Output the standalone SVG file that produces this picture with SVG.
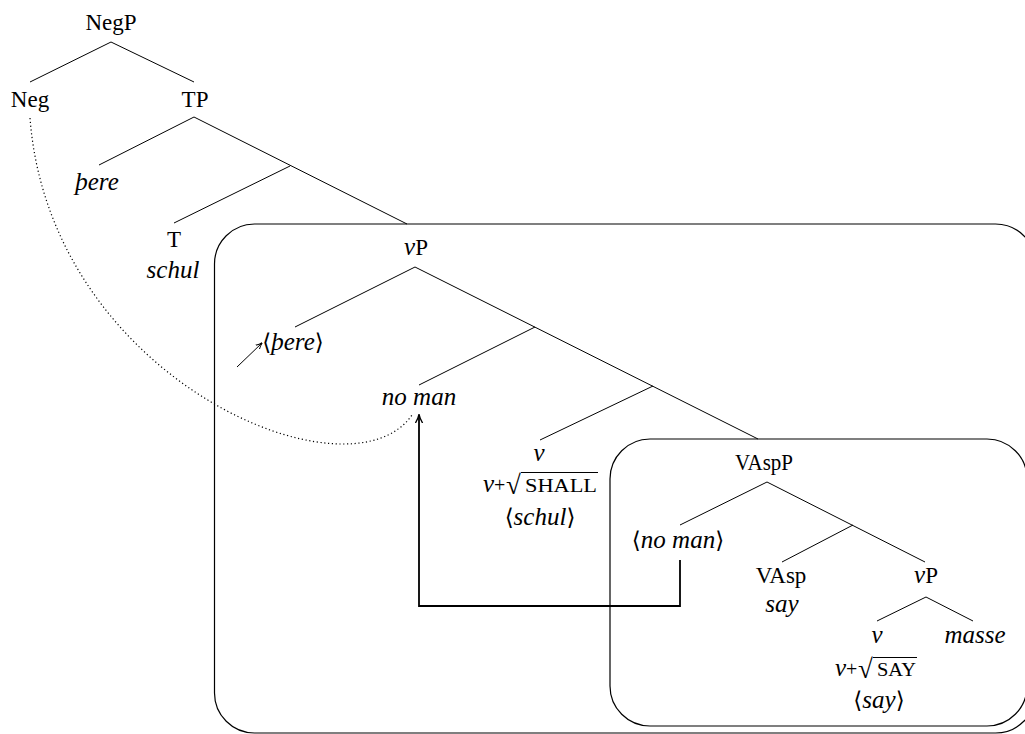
<svg xmlns="http://www.w3.org/2000/svg" width="1025" height="734" viewBox="0 0 1025 734">
<defs>
<style>
.t{font-family:"Liberation Serif","DejaVu Serif",serif;font-size:23px;text-anchor:middle;fill:#000}
.s{text-anchor:start}
.i{font-style:italic;font-size:25px}
.sc{font-size:19px}
.rad{font-size:27px}
.pl{font-size:20px}
.e{stroke:#000;stroke-width:1;fill:none}
.vin{stroke:#000;stroke-width:1.1;fill:none}
.box{stroke:#000;stroke-width:1.2;fill:none}
.mv{stroke:#000;stroke-width:1.8;fill:none}
.dot{stroke:#000;stroke-width:1.2;fill:none;stroke-dasharray:1.2 2.6}
</style>
<marker id="ah" viewBox="0 0 10 10" refX="9" refY="5" markerWidth="7" markerHeight="7" markerUnits="userSpaceOnUse" orient="auto">
<path d="M0,1 Q5,4 10,5 Q5,6 0,9" fill="none" stroke="#000" stroke-width="1.4"/>
</marker>
<marker id="ah2" viewBox="0 0 10 10" refX="9" refY="5" markerWidth="9" markerHeight="9" markerUnits="userSpaceOnUse" orient="auto">
<path d="M0,1 Q5,4 10,5 Q5,6 0,9" fill="none" stroke="#000" stroke-width="1.4"/>
</marker>
</defs>
<rect width="1025" height="734" fill="#fff"/>
<g id="boxes">
<rect class="box" x="214.5" y="224" width="821" height="509" rx="40"/>
<rect class="box" x="610" y="439" width="417" height="287" rx="40"/>
</g>
<g id="connectors">
<path class="e" d="M111,42 L30,82 M111,42 L194,82"/>
<path class="e" d="M194,117 L99,165 M194,117 L407,224 M290,166 L174,223"/>
<path class="e" d="M415,267 L295,327 M415,267 L758,439 M535,327 L419,385 M653,386 L540,440"/>
<path class="e" d="M767,482 L680,525 M767,482 L925,562 M853,525 L782,562"/>
<path class="e" d="M926,597 L877,621 M926,597 L973,621"/>
<line class="e" x1="237" y1="367" x2="262" y2="343" marker-end="url(#ah)"/>
<path class="mv" d="M680,560 V606 H419 V415" marker-end="url(#ah2)"/>
<path class="dot" d="M30,118 C50,380 350,505 412,415"/>
</g>
<g id="n-NegP"><text class="t" x="111" y="30">NegP</text></g>
<g id="n-Neg"><text class="t" x="30" y="107">Neg</text></g>
<g id="n-TP"><text class="t" x="195" y="107">TP</text></g>
<g id="n-there"><text class="t i" x="97" y="190">þere</text></g>
<g id="n-T"><text class="t" x="174" y="247">T</text><text class="t i" x="173" y="278">schul</text></g>
<g id="n-vP"><text class="t" x="416" y="255"><tspan class="i">ν</tspan>P</text></g>
<g id="n-there2"><text class="t" x="293" y="350">⟨<tspan class="i">þere</tspan>⟩</text></g>
<g id="n-noman"><text class="t i" x="419" y="405">no man</text></g>
<g id="n-v1">
<text class="t i" x="539" y="461">ν</text>
<text class="t s" x="483" y="492"><tspan class="i">ν</tspan><tspan class="pl">+</tspan></text>
<text class="t s rad" x="506" y="494">√</text>
<text class="t s sc" x="525" y="492" textLength="72" lengthAdjust="spacingAndGlyphs">SHALL</text>
<line class="vin" x1="521" y1="472.5" x2="598" y2="472.5"/>
<text class="t" x="540" y="525">⟨<tspan class="i">schul</tspan>⟩</text>
</g>
<g id="n-VAspP"><text class="t" x="764" y="470" textLength="58" lengthAdjust="spacingAndGlyphs">VAspP</text></g>
<g id="n-noman2"><text class="t" x="678" y="548">⟨<tspan class="i">no man</tspan>⟩</text></g>
<g id="n-VAsp"><text class="t" x="781" y="583">VAsp</text><text class="t i" x="782" y="612">say</text></g>
<g id="n-vP2"><text class="t" x="926" y="583"><tspan class="i">ν</tspan>P</text></g>
<g id="n-v2">
<text class="t i" x="877" y="643">ν</text>
<text class="t s" x="835" y="676"><tspan class="i">ν</tspan><tspan class="pl">+</tspan></text>
<text class="t s rad" x="858" y="678">√</text>
<text class="t s sc" x="877" y="676" textLength="39" lengthAdjust="spacingAndGlyphs">SAY</text>
<line class="vin" x1="873" y1="657.5" x2="917" y2="657.5"/>
<text class="t" x="879" y="708">⟨<tspan class="i">say</tspan>⟩</text>
</g>
<g id="n-masse"><text class="t i" x="975" y="643">masse</text></g>
</svg>
